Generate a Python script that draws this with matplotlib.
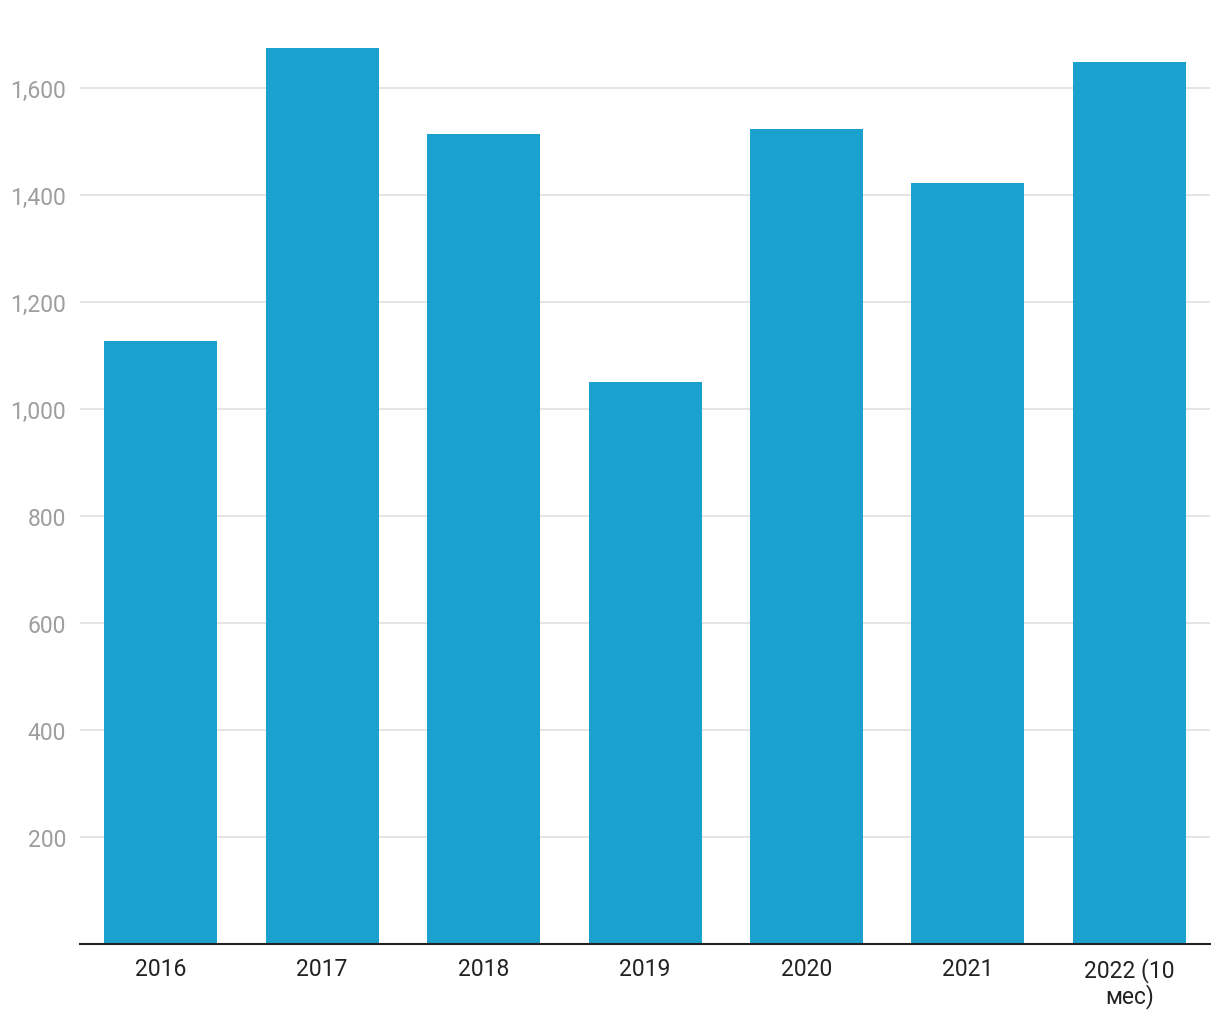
import matplotlib
matplotlib.use("Agg")
import matplotlib.pyplot as plt
from matplotlib.ticker import FuncFormatter

categories = ["2016", "2017", "2018", "2019", "2020", "2021", "2022 (10\nмес)"]
values = [1127, 1675, 1514, 1052, 1525, 1424, 1650]
yticks = [200, 400, 600, 800, 1000, 1200, 1400, 1600]

plt.rcParams['font.family'] = ['Roboto', 'DejaVu Sans']

fig = plt.figure(figsize=(12.2, 10.2), dpi=100)
ax = fig.add_axes([80/1220, 1 - 945.3/1020, 1130/1220, (945.3 - 22)/1020])

x = list(range(len(categories)))
ax.bar(x, values, width=0.70, color="#1aa1cd", zorder=3)

ax.set_xlim(-0.5, len(categories) - 0.5)
ax.set_ylim(0, 1726)
ax.set_yticks(yticks)
ax.yaxis.set_major_formatter(FuncFormatter(lambda v, p: f"{int(v):,}"))
ax.grid(axis="y", color="#e3e3e3", linewidth=1.3, zorder=0)
ax.set_xticks(x)
ax.set_xticklabels(categories, linespacing=1.05)

for s in ["top", "right", "left"]:
    ax.spines[s].set_visible(False)
ax.spines["bottom"].set_color("#222222")
ax.spines["bottom"].set_linewidth(1.5)
ax.spines["bottom"].set_zorder(4)

ax.tick_params(axis="y", length=0, pad=10, labelsize=16.5, labelcolor="#9e9e9e")
ax.tick_params(axis="x", length=0, pad=9, labelsize=16.5, labelcolor="#222222")
for t in ax.get_xticklabels():
    t.set_verticalalignment("top")

fig.savefig("out.png", dpi=100)
